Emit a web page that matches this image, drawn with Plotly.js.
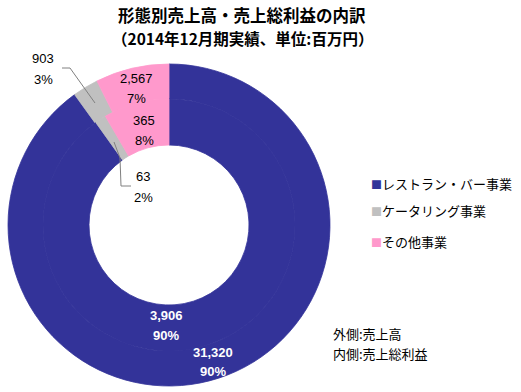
<!DOCTYPE html>
<html>
<head>
<meta charset="utf-8">
<script src="https://cdn.plot.ly/plotly-3.0.1.min.js"></script>
<style>html,body{margin:0;padding:0;background:#fff;}#chart{width:521px;height:392px;}</style>
</head>
<body>
<div id="chart"></div>
<script>
const categories = ['レストラン・バー事業', 'ケータリング事業', 'その他事業'];
const salesValues = [31320, 903, 2567];
const salesPct = ['90%', '3%', '7%'];
const profitValues = [3906, 63, 365];
const profitPct = ['90%', '2%', '8%'];
const colors = ['#333399', '#C0C0C0', '#FF99CC'];
const titleLines = ['形態別売上高・売上総利益の内訳', '（2014年12月期実績、単位:百万円）'];
const notes = ['外側:売上高', '内側:売上総利益'];

const fmt = v => v.toLocaleString('en-US');
const jp = '"Noto Sans CJK JP", sans-serif';
const num = '"Liberation Sans", Arial, sans-serif';

const W = 521, H = 392;
const cx = 169, cy = 225, rOut = 161, rMid = 126, rIn = 80;
function dom(r) {
  return {x: [(cx - r) / W, (cx + r) / W], y: [(H - cy - r) / H, (H - cy + r) / H]};
}

const common = {
  type: 'pie', labels: categories, sort: false, direction: 'clockwise', rotation: 0,
  marker: {colors: colors, line: {width: 0.8, color: colors}},
  textinfo: 'none',
  hoverinfo: 'label+value', showlegend: false
};

const outer = Object.assign({}, common, {values: salesValues, domain: dom(rOut), hole: rMid / rOut});
const inner = Object.assign({}, common, {values: profitValues, domain: dom(rMid), hole: rIn / rMid});

const px = x => x / W, py = y => 1 - y / H;
const ann = [];
ann.push({x: px(242), y: py(15), text: '<b>' + titleLines[0] + '</b>', font: {family: jp, size: 16.5, color: '#000'}});
ann.push({x: px(242), y: py(38), text: '<b>' + titleLines[1] + '</b>', font: {family: jp, size: 15.5, color: '#000'}});

// data labels: [value text, pct text, x, y1, y2, color, bold]
const labelSpec = [
  [fmt(salesValues[0]), salesPct[0], 213, 352, 371, '#FFFFFF', true],
  [fmt(salesValues[1]), salesPct[1], 43, 59, 79, '#000000', false],
  [fmt(salesValues[2]), salesPct[2], 136, 78, 98, '#000000', false],
  [fmt(profitValues[0]), profitPct[0], 166, 315, 335, '#FFFFFF', true],
  [fmt(profitValues[1]), profitPct[1], 143, 177, 197, '#000000', false],
  [fmt(profitValues[2]), profitPct[2], 144, 120, 140, '#000000', false]
];
labelSpec.forEach(s => {
  const b = t => s[6] ? '<b>' + t + '</b>' : t;
  ann.push({x: px(s[2]), y: py(s[3]), text: b(s[0]), font: {family: num, size: 13, color: s[5]}});
  ann.push({x: px(s[2]), y: py(s[4]), text: b(s[1]), font: {family: num, size: 13, color: s[5]}});
});

// legend
const legY = [183, 211, 241];
categories.forEach((c, i) => {
  ann.push({x: px(370), y: py(legY[i]), xanchor: 'left', text: '<span style="color:' + colors[i] + ';font-size:11px">■</span>' + c, font: {family: jp, size: 13, color: '#000'}});
});
// notes
ann.push({x: px(332), y: py(333), xanchor: 'left', text: notes[0], font: {family: jp, size: 13, color: '#000'}});
ann.push({x: px(332), y: py(353), xanchor: 'left', text: notes[1], font: {family: jp, size: 13, color: '#000'}});
ann.forEach(a => { a.xref = 'paper'; a.yref = 'paper'; a.showarrow = false; a.borderpad = 0; if (!a.xanchor) a.xanchor = 'center'; a.yanchor = 'middle'; });

const P = (x, y) => px(x) + ',' + py(y);
const shapes = [
  {type: 'path', xref: 'paper', yref: 'paper', path: 'M' + P(62, 68) + 'L' + P(70, 68) + 'L' + P(95, 103), line: {color: '#808080', width: 1}},
  {type: 'path', xref: 'paper', yref: 'paper', path: 'M' + P(114, 142) + 'L' + P(120, 158) + 'L' + P(121, 186) + 'L' + P(131, 186), line: {color: '#808080', width: 1}}
];

Plotly.newPlot('chart', [outer, inner], {
  width: W, height: H, margin: {l: 0, r: 0, t: 0, b: 0},
  paper_bgcolor: '#fff', plot_bgcolor: '#fff',
  annotations: ann, shapes: shapes, showlegend: false
}, {staticPlot: true});
</script>
</body>
</html>
